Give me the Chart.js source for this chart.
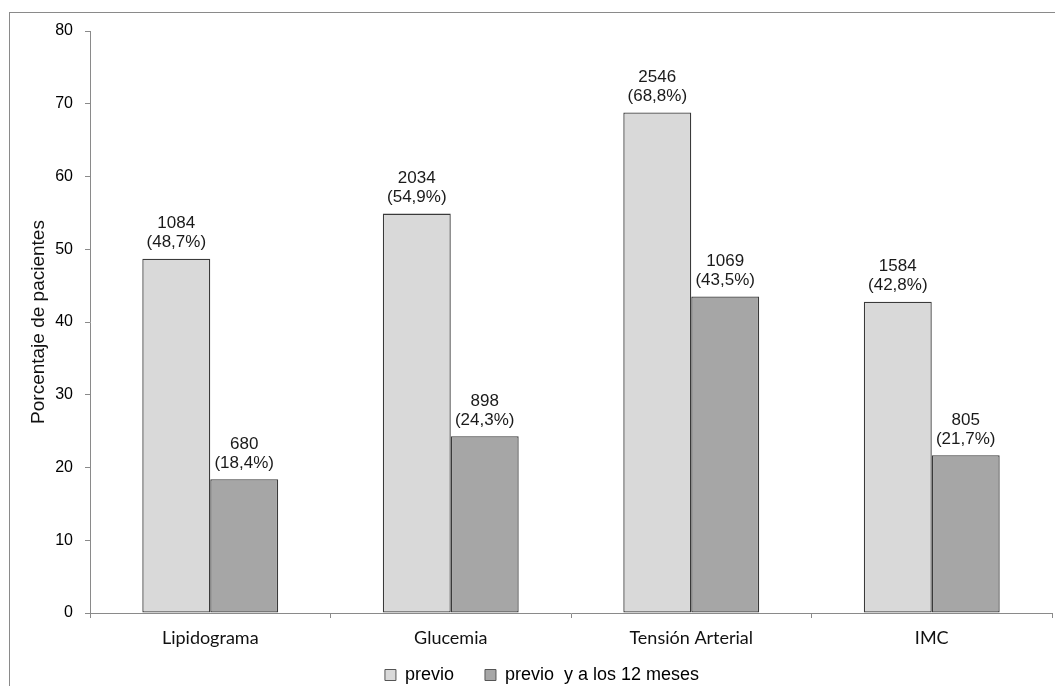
<!DOCTYPE html>
<html>
<head>
<meta charset="utf-8">
<script src="https://cdn.jsdelivr.net/npm/chart.js@4/dist/chart.umd.min.js"></script>
<style>
  body { margin: 0; background: #fff; }
  #wrap { position: relative; width: 1055px; height: 686px; }
  #frame { position: absolute; left: 9px; top: 12px; right: -5px; bottom: -5px;
           border-left: 1px solid #8a8a8a; border-top: 1px solid #8a8a8a; pointer-events: none; }
</style>
</head>
<body>
<div id="wrap">
  <canvas id="chart"></canvas>
  <div id="frame"></div>
</div>
<script>
// Chart data
const categories = ['Lipidograma', 'Glucemia', 'Tensión Arterial', 'IMC'];
const previoPct = [48.7, 54.9, 68.8, 42.8];
const previoN = [1084, 2034, 2546, 1584];
const mesesPct = [18.4, 24.3, 43.5, 21.7];
const mesesN = [680, 898, 1069, 805];
const yTicks = [0, 10, 20, 30, 40, 50, 60, 70, 80];

const counts = [previoN, mesesN];

// Draw "count (pct%)" above each bar
const barLabels = {
    id: 'barLabels',
    afterDatasetsDraw(chart) {
        const ctx = chart.ctx;
        ctx.save();
        ctx.font = '17px "Liberation Sans", Arial, sans-serif';
        ctx.fillStyle = '#1a1a1a';
        ctx.textAlign = 'center';
        ctx.textBaseline = 'middle';
        chart.data.datasets.forEach((ds, di) => {
            chart.getDatasetMeta(di).data.forEach((bar, i) => {
                const pct = '(' + ds.data[i].toFixed(1).replace('.', ',') + '%)';
                ctx.fillText(String(counts[di][i]), bar.x, bar.y - 35);
                ctx.fillText(pct, bar.x, bar.y - 16);
            });
        });
        ctx.restore();
    }
};

// Legend in the original sits a bit right of the canvas centre
const legendShift = {
    id: 'legendShift',
    afterLayout(chart) {
        if (chart.legend) {
            chart.legend.left += 16;
            chart.legend.right += 16;
        }
    }
};

new Chart(document.getElementById('chart'), {
    type: 'bar',
    data: {
        labels: categories,
        datasets: [
            {
                label: 'previo',
                data: previoPct,
                backgroundColor: '#d9d9d9',
                borderColor: '#3a3a3a',
                borderWidth: 1.3,
                borderSkipped: false,
                categoryPercentage: 0.565,
                barPercentage: 1
            },
            {
                label: 'previo  y a los 12 meses',
                data: mesesPct,
                backgroundColor: '#a6a6a6',
                borderColor: '#3a3a3a',
                borderWidth: 1.3,
                borderSkipped: false,
                categoryPercentage: 0.565,
                barPercentage: 1
            }
        ]
    },
    options: {
        responsive: true,
        maintainAspectRatio: false,
        animation: false,
        layout: {
            padding: { top: 31, right: 3, bottom: -8, left: 0 }
        },
        plugins: {
            legend: {
                position: 'bottom',
                labels: {
                    boxWidth: 11,
                    boxHeight: 11,
                    padding: 6,
                    color: '#000',
                    font: { family: '"Liberation Sans", Arial, sans-serif', size: 18 },
                    generateLabels(chart) {
                        return chart.data.datasets.map((ds, i) => ({
                            text: i === 0 ? ds.label + '     ' : ds.label,
                            fillStyle: ds.backgroundColor,
                            strokeStyle: '#555',
                            lineWidth: 1,
                            fontColor: '#000',
                            datasetIndex: i
                        }));
                    }
                }
            },
            tooltip: { enabled: false }
        },
        scales: {
            x: {
                border: { color: '#8a8a8a' },
                grid: {
                    drawOnChartArea: false,
                    drawTicks: true,
                    tickLength: 5,
                    color: '#8a8a8a'
                },
                ticks: {
                    padding: 9,
                    color: '#111',
                    font: { family: 'Lato, "Open Sans", sans-serif', size: 18 }
                },
                afterFit(scale) { scale.height = 47; }
            },
            y: {
                min: 0,
                max: 80,
                afterBuildTicks(scale) {
                    scale.ticks = yTicks.map(v => ({ value: v }));
                },
                border: { color: '#8a8a8a' },
                grid: {
                    drawOnChartArea: false,
                    drawTicks: true,
                    tickLength: 5,
                    color: '#8a8a8a'
                },
                ticks: {
                    padding: 12,
                    color: '#000',
                    font: { family: '"Liberation Sans", Arial, sans-serif', size: 16 }
                },
                title: {
                    display: true,
                    text: 'Porcentaje de pacientes',
                    color: '#111',
                    font: { family: '"Liberation Sans", Arial, sans-serif', size: 19 },
                    padding: { top: 27, bottom: 0 }
                },
                afterFit(scale) { scale.width = 90; }
            }
        }
    },
    plugins: [barLabels, legendShift]
});
</script>
</body>
</html>
